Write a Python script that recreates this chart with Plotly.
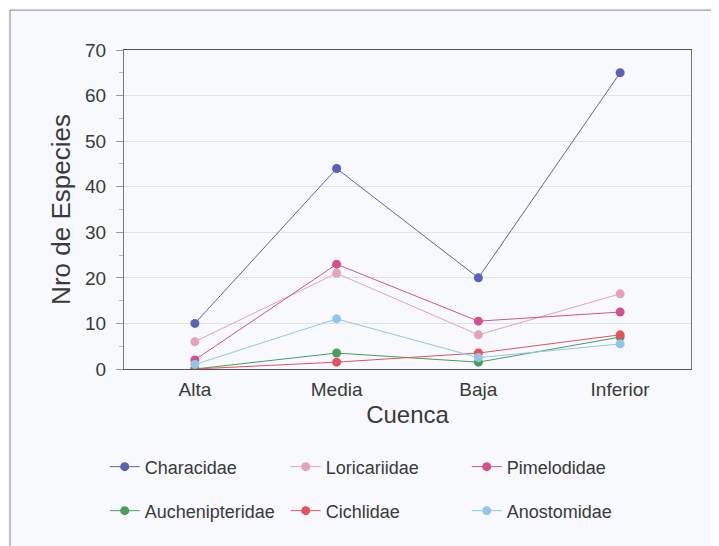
import plotly.graph_objects as go

cuencas = ["Alta", "Media", "Baja", "Inferior"]
familias = ["Characidae", "Loricariidae", "Pimelodidae",
            "Auchenipteridae", "Cichlidae", "Anostomidae"]
characidae = [10, 44, 20, 65]
loricariidae = [6, 21, 7.5, 16.5]
pimelodidae = [2, 23, 10.5, 12.5]
auchenipteridae = [0, 3.5, 1.5, 7]
cichlidae = [0, 1.5, 3.5, 7.5]
anostomidae = [1, 11, 2.5, 5.5]
y_ticks = [0, 10, 20, 30, 40, 50, 60, 70]

series = [characidae, loricariidae, pimelodidae, auchenipteridae, cichlidae, anostomidae]
colors = ["#5c61b4", "#e2a3bb", "#d2528f", "#4f9a5c", "#e2535f", "#93c6e6"]
legend_ids = ["legend", "legend", "legend", "legend2", "legend2", "legend2"]

FONT = "Arial, 'Liberation Sans', sans-serif"
TXT = "#3a3a3a"

fig = go.Figure()
for name, vals, c, lg in zip(familias, series, colors, legend_ids):
    fig.add_trace(go.Scatter(
        x=cuencas, y=vals, name=name, mode="lines+markers",
        line=dict(color=c, width=1),
        marker=dict(color=c, size=9),
        legend=lg,
    ))

leg_common = dict(
    orientation="h", xanchor="left", yanchor="middle",
    entrywidth=136, entrywidthmode="pixels",
    font=dict(size=18, color=TXT),
    bgcolor="rgba(0,0,0,0)",
)

fig.update_layout(
    width=719, height=546,
    margin=dict(l=116, r=36, t=42, b=185),
    paper_bgcolor="#f7f9fd",
    plot_bgcolor="#f7f9fd",
    font=dict(family=FONT, color=TXT),
    showlegend=True,
    legend=dict(x=-0.034, y=-0.307, **leg_common),
    legend2=dict(x=-0.034, y=-0.445, **leg_common),
    xaxis=dict(
        type="category", range=[-0.5, 3.5],
        showline=True, linecolor="#555", linewidth=1, mirror=True,
        showgrid=False, ticks="", tickfont=dict(size=19, color=TXT),
        ticklabelstandoff=3,
        title=dict(text="Cuenca", font=dict(size=24, color=TXT), standoff=7),
        zeroline=False,
    ),
    yaxis=dict(
        range=[0, 70], tickvals=y_ticks,
        showline=True, linecolor="#777", linewidth=1, mirror=True,
        showgrid=True, gridcolor="#dfe3ea", gridwidth=1,
        ticks="outside", ticklen=7, tickcolor="#999",
        ticklabelstandoff=6,
        minor=dict(dtick=5, ticks="outside", ticklen=4, tickcolor="#bbb", showgrid=False),
        tickfont=dict(size=19, color=TXT),
        title=dict(text="Nro de Especies", font=dict(size=26, color=TXT), standoff=6),
        zeroline=False,
    ),
    shapes=[dict(type="rect", xref="paper", yref="paper",
                 x0=-0.201, x1=1.2, y0=-0.7, y1=1.125,
                 line=dict(color="#888", width=1), fillcolor="rgba(0,0,0,0)",
                 layer="below")],
)

fig.write_html("out.html")
